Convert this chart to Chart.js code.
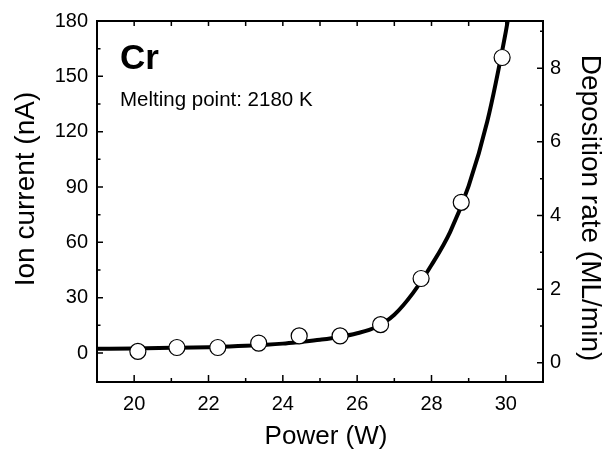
<!DOCTYPE html>
<html lang="en">

<head>
    <meta charset="UTF-8">
    <title>Cr ion current</title>
    <script src="https://cdn.jsdelivr.net/npm/chart.js"></script>
    <style>
        body { margin: 0; background: #fff; }
        canvas { display: block; }
    </style>
</head>

<body>
    <canvas id="grafico" width="603" height="452"></canvas>
</body>

</html>
<script>
    // measured points
    var power = [20.1, 21.15, 22.25, 23.35, 24.44, 25.54, 26.63, 27.72, 28.8, 29.9];
    var ionCurrent = [0.9, 3.0, 3.0, 5.4, 9.3, 9.3, 15.4, 40.4, 81.7, 160.2];

    // fitted curve
    var fitPower = [19, 20, 21, 22, 23, 24, 24.5, 25, 25.5, 26, 26.5, 27, 27.5, 28, 28.5, 29, 29.5, 30, 30.1];
    var fitCurrent = [2.3, 2.5, 2.8, 3.2, 3.9, 5.1, 6.1, 7.2, 8.6, 10.7, 14.0, 20.8, 32.5, 47.7, 65.6, 90.6, 125.5, 174.3, 186];

    // axes
    var xTicks = [20, 22, 24, 26, 28, 30];
    var xMinor = [21, 23, 25, 27, 29];
    var yTicks = [0, 30, 60, 90, 120, 150, 180];
    var yMinor = [15, 45, 75, 105, 135, 165];
    var y2Ticks = [0, 2, 4, 6, 8];
    var y2Minor = [1, 3, 5, 7, 9];

    var fonte = '"Liberation Sans", Arial, sans-serif';

    function pontos(xs, ys) {
        return xs.map((x, i) => ({ x: x, y: ys[i] }));
    }

    function fixarTicks(lista) {
        return function (scale) {
            scale.ticks = lista.map(v => ({ value: v }));
        };
    }

    var moldura = {
        id: 'moldura',
        afterDraw(chart) {
            var ctx = chart.ctx;
            var a = chart.chartArea;
            var sx = chart.scales.x, sy = chart.scales.y, sy2 = chart.scales.y2;

            ctx.save();
            ctx.strokeStyle = '#000';
            ctx.lineWidth = 2;
            ctx.strokeRect(a.left, a.top, a.right - a.left, a.bottom - a.top);

            ctx.lineWidth = 1.5;
            ctx.beginPath();
            xTicks.forEach(v => {
                var p = sx.getPixelForValue(v);
                ctx.moveTo(p, a.bottom); ctx.lineTo(p, a.bottom - 7);
                ctx.moveTo(p, a.top); ctx.lineTo(p, a.top + 5);
            });
            xMinor.forEach(v => {
                var p = sx.getPixelForValue(v);
                ctx.moveTo(p, a.bottom); ctx.lineTo(p, a.bottom - 4);
                ctx.moveTo(p, a.top); ctx.lineTo(p, a.top + 5);
            });
            yTicks.forEach(v => {
                var p = sy.getPixelForValue(v);
                ctx.moveTo(a.left, p); ctx.lineTo(a.left + 6, p);
            });
            yMinor.forEach(v => {
                var p = sy.getPixelForValue(v);
                ctx.moveTo(a.left, p); ctx.lineTo(a.left + 3.5, p);
            });
            y2Ticks.forEach(v => {
                var p = sy2.getPixelForValue(v);
                ctx.moveTo(a.right, p); ctx.lineTo(a.right - 6, p);
            });
            y2Minor.forEach(v => {
                var p = sy2.getPixelForValue(v);
                ctx.moveTo(a.right, p); ctx.lineTo(a.right - 3, p);
            });
            ctx.stroke();

            ctx.fillStyle = '#000';
            ctx.textBaseline = 'alphabetic';
            ctx.textAlign = 'left';
            ctx.font = 'bold 35px ' + fonte;
            ctx.fillText('Cr', 120, 69);
            ctx.font = '20.5px ' + fonte;
            ctx.fillText('Melting point: 2180 K', 120, 106);

            ctx.textAlign = 'center';
            ctx.textBaseline = 'middle';
            ctx.font = '26px ' + fonte;
            ctx.fillText('Power (W)', 326, 437);

            ctx.font = '28px ' + fonte;
            ctx.save();
            ctx.translate(26, 189);
            ctx.rotate(-Math.PI / 2);
            ctx.fillText('Ion current (nA)', 0, 0);
            ctx.restore();

            ctx.save();
            ctx.translate(590, 208);
            ctx.rotate(Math.PI / 2);
            ctx.fillText('Deposition rate (ML/min)', 0, 0);
            ctx.restore();

            ctx.restore();
        }
    };

    var grafico = new Chart(document.getElementById('grafico').getContext('2d'), {
        type: 'scatter',
        data: {
            datasets: [{
                label: 'Ion current',
                data: pontos(power, ionCurrent),
                pointRadius: 8,
                pointBackgroundColor: '#fff',
                pointBorderColor: '#000',
                pointBorderWidth: 1.2,
                order: 1
            }, {
                label: 'Fit',
                data: pontos(fitPower, fitCurrent),
                showLine: true,
                pointRadius: 0,
                borderColor: '#000',
                borderWidth: 4,
                cubicInterpolationMode: 'monotone',
                clip: 0,
                order: 2
            }]
        },
        options: {
            responsive: false,
            animation: false,
            devicePixelRatio: 1,
            layout: { padding: { top: 18, right: 0, bottom: 0, left: 0 } },
            plugins: {
                legend: { display: false },
                tooltip: { enabled: false }
            },
            scales: {
                x: {
                    type: 'linear',
                    min: 19,
                    max: 31,
                    grid: { display: false, drawTicks: false },
                    border: { display: false },
                    afterBuildTicks: fixarTicks(xTicks),
                    afterFit: scale => { scale.height = 70; },
                    ticks: {
                        color: '#000',
                        font: { family: fonte, size: 20 },
                        padding: 10,
                        maxRotation: 0,
                        autoSkip: false
                    }
                },
                y: {
                    min: -15.7,
                    max: 180,
                    grid: { display: false, drawTicks: false },
                    border: { display: false },
                    afterBuildTicks: fixarTicks(yTicks),
                    afterFit: scale => { scale.width = 97; },
                    ticks: {
                        color: '#000',
                        font: { family: fonte, size: 20 },
                        padding: 9,
                        autoSkip: false
                    }
                },
                y2: {
                    position: 'right',
                    min: -0.52,
                    max: 9.28,
                    grid: { display: false, drawTicks: false },
                    border: { display: false },
                    afterBuildTicks: fixarTicks(y2Ticks),
                    afterFit: scale => { scale.width = 60; },
                    ticks: {
                        color: '#000',
                        font: { family: fonte, size: 20 },
                        padding: 7,
                        autoSkip: false
                    }
                }
            }
        },
        plugins: [moldura]
    });
</script>
